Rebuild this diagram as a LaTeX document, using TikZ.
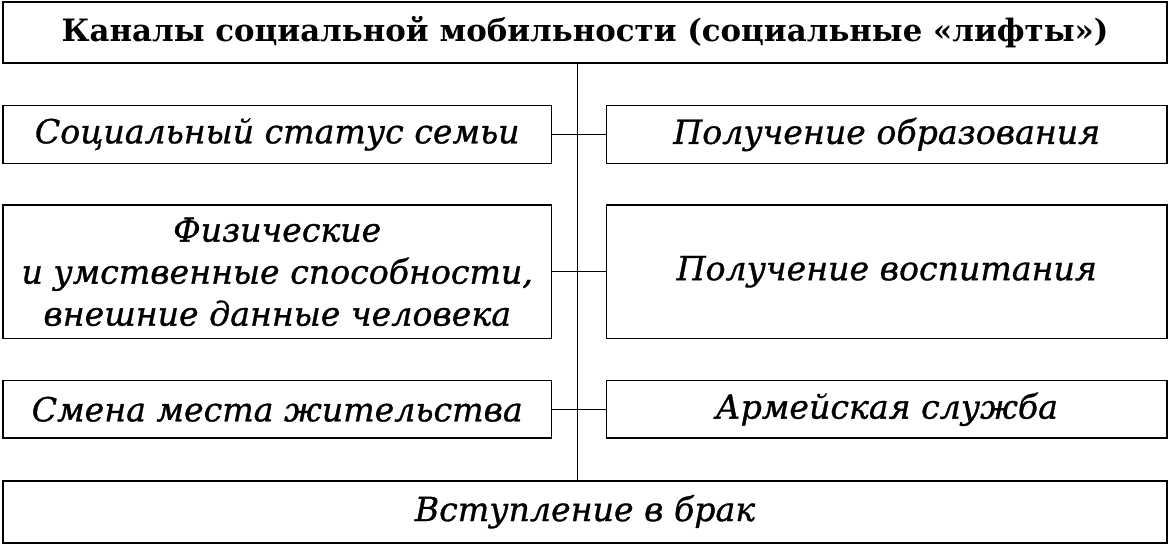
\documentclass[tikz,border=0pt]{standalone}
\usepackage{fontspec}
\setmainfont{DejaVu Serif}
\newfontfamily\itemfont{DejaVu Serif}[ItalicFeatures={FakeBold=0.9}]
\begin{document}
\begin{tikzpicture}[x=1pt,y=-1pt,
  box/.style={draw=black, line width=1.7pt, inner sep=0pt, align=center},
  titlebox/.style={box, font=\fontsize{30.8}{36}\selectfont\bfseries},
  itembox/.style={box, font=\fontsize{33.2}{42}\selectfont\itemfont\itshape},
  link/.style={draw=black, line width=1.3pt}]
\useasboundingbox (0,0) rectangle (1170,545);
\node[titlebox, minimum width=1164.5pt, minimum height=61pt] (top) at (585,32.5) {Каналы социальной мобильности (социальные «лифты»)};
\node[itembox, minimum width=548.5pt, minimum height=58pt] (l1) at (277.25,134.5) {Социальный статус семьи};
\node[itembox, minimum width=560.5pt, minimum height=58pt] (r1) at (886.75,134.5) {Получение образования};
\node[itembox, minimum width=548.5pt, minimum height=133.5pt] (l2) at (277.25,271.75) {Физические\\и умственные способности,\\внешние данные человека};
\node[itembox, minimum width=560.5pt, minimum height=133.5pt] (r2) at (886.75,271.75) {Получение воспитания};
\node[itembox, minimum width=548.5pt, minimum height=57.5pt] (l3) at (277.25,409.25) {Смена места жительства};
\node[itembox, minimum width=560.5pt, minimum height=57.5pt] (r3) at (886.75,409.25) {Армейская служба};
\node[itembox, minimum width=1164.5pt, minimum height=62pt] (bot) at (585,511.7) {Вступление в брак};
\coordinate (spine) at (577.5,0);
\draw[link] (top.south -| spine) -- (bot.north -| spine);
\draw[link] (l1.east) -- (r1.west);
\draw[link] (l2.east) -- (r2.west);
\draw[link] (l3.east) -- (r3.west);
\end{tikzpicture}
\end{document}
